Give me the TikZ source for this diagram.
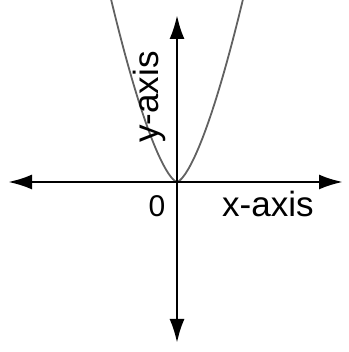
\documentclass[tikz,border=0pt]{standalone}
\usepackage{fontspec}
\setmainfont{Liberation Sans}
\usetikzlibrary{arrows.meta}

\begin{document}
\begin{tikzpicture}[x=1pt,y=1pt,
  axis/.style={line width=2.6pt, {Latex[length=24pt,width=15pt]}-{Latex[length=24pt,width=15pt]}},
  curve/.style={line width=1.8pt, black!62},
  lbl/.style={inner sep=0pt, font=\fontsize{35}{42}\selectfont}]
  \useasboundingbox (0,0) rectangle (348,352);

  \coordinate (O) at (177,170);
  \coordinate (L) at (8,170);
  \coordinate (R) at (343,170);
  \coordinate (T) at (177,337);
  \coordinate (D) at (177,9);

  % parabola
  \begin{scope}
    \clip (0,0) rectangle (348,352);
    \draw[curve] plot[domain=-72:72, samples=97] ({177+\x},{170+0.341*abs(\x)*sqrt(abs(\x))});
  \end{scope}

  \draw[axis] (L) -- (R);
  \draw[axis] (D) -- (T);

  \node[lbl, rotate=90, anchor=base west] (ylbl) at (158,209) {y-axis};
  \node[lbl, anchor=base west] (xlbl) at (222,135) {x-axis};
  \node[lbl, font=\fontsize{30}{36}\selectfont, anchor=base] (zero) at (157,135) {0};
\end{tikzpicture}
\end{document}
